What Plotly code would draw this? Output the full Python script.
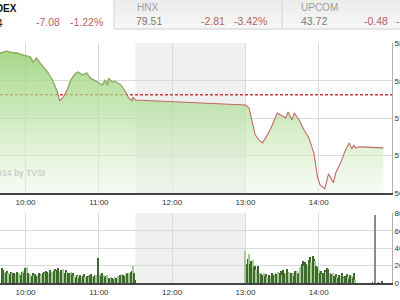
import plotly.graph_objects as go

DAY = "2014-06-10 "

# ---------------- data ----------------
prev_close = 580.32
header_labels = ["VNINDEX", "HNX", "UPCOM"]
header_values = ["573.24", "79.51", "43.72"]
header_changes = ["-7.08", "-2.81", "-0.48"]
header_pcts = ["-1.22%", "-3.42%", "-1.09%"]

price_times = ["09:39", "09:45", "09:47", "09:53", "09:58", "10:04", "10:06", "10:09", "10:12", "10:18",
               "10:22", "10:26", "10:28", "10:31", "10:34", "10:37", "10:41", "10:43", "10:47", "10:50",
               "10:53", "10:59", "11:03", "11:05", "11:07", "11:08", "11:11", "11:13", "11:18", "11:22",
               "11:24", "11:27", "11:28", "11:30",
               "13:00", "13:03", "13:06", "13:08", "13:11", "13:14", "13:18", "13:22", "13:26", "13:29",
               "13:33", "13:35", "13:38", "13:40", "13:44", "13:48", "13:52", "13:56", "13:59", "14:01",
               "14:05", "14:08", "14:12", "14:14", "14:18", "14:21", "14:25", "14:27", "14:29", "14:30",
               "14:33", "14:53"]
price_values = [585.90, 586.17, 586.03, 585.90, 585.63, 585.37, 584.70, 585.23, 584.57, 583.37,
                582.30, 580.70, 579.50, 580.03, 580.97, 582.30, 583.23, 583.37, 582.97, 583.23,
                582.57, 582.03, 581.63, 582.30, 581.63, 582.57, 582.03, 582.17, 581.63, 580.70,
                580.03, 579.50, 580.03, 579.63,
                578.97, 578.57, 576.57, 574.97, 574.30, 573.90, 574.97, 576.30, 577.90, 577.63,
                577.23, 578.03, 576.97, 577.90, 576.97, 575.63, 574.57, 572.57, 569.37, 568.30,
                567.77, 569.77, 568.57, 569.90, 571.23, 572.57, 573.90, 573.10, 573.63, 573.23,
                573.37, 573.23]

# per-minute volume, morning session ending 11:30
vol_am = [17, 15, 13, 11, 14, 12, 10, 13, 12, 11, 12, 10, 13, 11, 12, 9, 13, 14, 11,
          17, 18, 12, 9, 10, 8, 11, 9, 10, 8, 9, 11, 10, 9, 12,
          13, 12, 14, 13, 11, 15, 12, 13, 14, 16, 14, 15, 17, 13, 15, 14, 16, 12, 15, 13,
          12, 11, 13, 10, 12, 8, 7, 9, 8, 6, 9, 7, 8, 10, 7, 8, 8, 7, 9, 10, 8, 7, 9,
          9, 29, 9, 10, 8, 11, 9, 7, 8, 9, 6, 5, 7, 6, 5, 7, 6, 5,
          8, 9, 7, 10, 9, 8, 11, 10, 12, 11, 13, 14, 20, 12, 3]
# per-minute volume, afternoon session starting 13:00
vol_pm = [37, 22, 28, 33, 22, 25, 26, 18, 20, 15, 19, 10, 12, 10, 9, 12, 8, 10, 7, 9,
          6, 8, 11, 9, 12, 10, 9, 13, 11, 14, 9, 15, 12, 10, 16, 9, 13, 11, 10, 12, 8, 14,
          14, 10, 12, 18, 22, 25, 20, 24, 22, 19, 26, 30, 24, 31, 27, 25, 20,
          18, 15, 12, 14, 10, 11, 15, 13, 17, 16, 12, 10,
          9, 12, 8, 10, 7, 6, 9, 8, 11, 7, 6, 8, 10, 7, 5, 9, 8, 6, 12, 4]
vol_late_times = ["14:44", "14:46", "14:49", "14:52"]
vol_late = [1, 78, 1.5, 2]

price_ticks = [567.2, 572.2, 577.2, 582.2, 587.2]
price_ticktext = ["567", "572", "577", "582", "587"]
vol_ticks = [0, 20, 40, 60, 80]
hour_ticks = ["10:00", "11:00", "12:00", "13:00", "14:00", "15:00"]


# ---------------- helpers ----------------
def ts(hm):
    return DAY + hm


def minute_series(start_hm, n):
    h, m = map(int, start_hm.split(":"))
    out = []
    for i in range(n):
        t = h * 60 + m + i
        out.append(ts("%02d:%02d" % (t // 60, t % 60)))
    return out


W, H = 392.0, 240.0  # plot area in px (margins l=0, r=8, t=43, b=17)


def px(x):
    return x / W


def py(y):
    return (283 - y) / H


am_start_min = 11 * 60 + 30 - (len(vol_am) - 1)
vol_am_times = minute_series("%02d:%02d" % (am_start_min // 60, am_start_min % 60), len(vol_am))
vol_pm_times = minute_series("13:00", len(vol_pm))

xr = [DAY + "09:39:04", ts("15:00")]

fig = go.Figure()

# reference line (previous close), drawn first so the fill tints it
fig.add_trace(go.Scatter(x=xr, y=[prev_close, prev_close], mode="lines",
                         line=dict(color="#cc3a3a", width=1.5, dash="3px,2px"),
                         hoverinfo="skip", xaxis="x", yaxis="y"))
# price: gradient fill
px_times = [ts(t) for t in price_times]
fig.add_trace(go.Scatter(
    x=px_times, y=price_values, mode="lines", line=dict(width=0),
    fill="tozeroy",
    fillgradient=dict(type="vertical", start=567.2, stop=587.2,
                      colorscale=[[0, "rgba(238,247,232,0.5)"],
                                  [0.5, "rgba(185,226,162,0.7)"],
                                  [1, "rgba(145,205,112,0.85)"]]),
    hoverinfo="skip", xaxis="x", yaxis="y"))
# price line (red below reference, green above)
fig.add_trace(go.Scatter(x=px_times, y=price_values, mode="lines",
                         line=dict(color="#c06a68", width=1.1), xaxis="x", yaxis="y"))
green_vals = [v if v >= prev_close else None for v in price_values]
fig.add_trace(go.Scatter(x=px_times, y=green_vals, mode="lines",
                         line=dict(color="#86c066", width=1.1), connectgaps=False,
                         xaxis="x", yaxis="y"))

# volume bars
all_vol_t = vol_am_times + vol_pm_times
all_vol = vol_am + vol_pm
bar_colors = ["#a9c99b" if i % 3 == 2 else "#3c6b2c" for i in range(len(all_vol))]
fig.add_trace(go.Bar(x=all_vol_t, y=all_vol, marker=dict(color=bar_colors, line=dict(width=0)),
                     xaxis="x2", yaxis="y2"))
late_colors = ["#3c6b2c" if v < 10 else "#8a8a8a" for v in vol_late]
fig.add_trace(go.Bar(x=[ts(t) for t in vol_late_times], y=vol_late, width=40000,
                     marker=dict(color=late_colors, line=dict(width=0)),
                     xaxis="x2", yaxis="y2"))

tick_font = dict(family="Liberation Sans", size=8, color="#333333")
xcommon = dict(type="date", range=xr, tickvals=[ts(t) for t in hour_ticks], ticktext=hour_ticks,
               showgrid=True, gridcolor="#dadada", gridwidth=1, showline=True, linecolor="#444444",
               linewidth=2, ticks="", tickfont=tick_font, zeroline=False, fixedrange=True,
               automargin=False)

fig.update_layout(
    width=400, height=300, margin=dict(l=0, r=8, t=43, b=17, autoexpand=False),
    paper_bgcolor="white", plot_bgcolor="white", showlegend=False, bargap=0,
    xaxis=dict(domain=[0, 1], anchor="y", **xcommon),
    xaxis2=dict(domain=[0, 1], anchor="y2", **xcommon),
    yaxis=dict(domain=[0.375, 1], anchor="x", side="right", range=[567.2, 587.25],
               tickvals=price_ticks, ticktext=price_ticktext, showgrid=True, gridcolor="#dadada",
               showline=True, linecolor="#b0b0b0", linewidth=1, ticks="", tickfont=tick_font,
               zeroline=False, automargin=False),
    yaxis2=dict(domain=[0, 0.2917], anchor="x2", side="right", range=[0, 80.3],
                tickvals=vol_ticks, showgrid=True, gridcolor="#dadada", showline=True,
                linecolor="#b0b0b0", linewidth=1, ticks="", tickfont=tick_font, zeroline=False,
                automargin=False),
)

shapes = []
# lunch break shading
for yr in ["y domain", "y2 domain"]:
    shapes.append(dict(type="rect", xref="x", yref=yr, x0=ts("11:30"), x1=ts("13:00"), y0=0, y1=1,
                       fillcolor="#f0f0f0", line=dict(width=0), layer="below"))
# header boxes (HNX, UPCOM)
n_strips = 6
for i in range(n_strips):
    y0 = i * 29.0 / n_strips
    y1 = (i + 1) * 29.0 / n_strips
    g = int(236 + i * 2)
    shapes.append(dict(type="rect", xref="paper", yref="paper", x0=px(114), x1=px(400),
                       y0=py(y1), y1=py(y0), fillcolor="rgb(%d,%d,%d)" % (g, g, g),
                       line=dict(width=0), layer="below"))
shapes.append(dict(type="line", xref="paper", yref="paper", x0=px(114), x1=px(114), y0=py(29), y1=py(0),
                   line=dict(color="#cfcfcf", width=1), layer="below"))
shapes.append(dict(type="line", xref="paper", yref="paper", x0=px(282), x1=px(282), y0=py(29), y1=py(0),
                   line=dict(color="#cfcfcf", width=1), layer="below"))
shapes.append(dict(type="line", xref="paper", yref="paper", x0=px(114), x1=px(400), y0=py(29), y1=py(29),
                   line=dict(color="#cfcfcf", width=1), layer="below"))
fig.update_layout(shapes=shapes)

red_txt = "#b7625f"
ann = []


def text(s, x, y, anchor="left", color="#222", size=10, bold=False):
    ann.append(dict(text=("<b>%s</b>" % s) if bold else s, xref="paper", yref="paper",
                    x=px(x), y=py(y), xanchor=anchor, yanchor="middle", showarrow=False,
                    font=dict(family="Liberation Sans", size=size, color=color)))


text(header_labels[0], 18.5, 8, anchor="right", color="#111", size=10, bold=True)
text(header_values[0], 4.5, 23, anchor="right", color="#222", size=10)
text(header_changes[0], 34, 22, color=red_txt, size=10.5)
text(header_pcts[0], 68, 22, color=red_txt, size=10.5)
text(header_labels[1], 135, 7, color="#9c9c9c", size=10)
text(header_values[1], 134, 21, color="#7a7a7a", size=10.5)
text(header_changes[1], 199, 21, color=red_txt, size=10.5)
text(header_pcts[1], 232, 21, color=red_txt, size=10.5)
text(header_labels[2], 299, 7, color="#9c9c9c", size=10)
text(header_values[2], 299, 21, color="#7a7a7a", size=10.5)
text(header_changes[2], 362, 21, color=red_txt, size=10.5)
text(header_pcts[2], 394, 21, color=red_txt, size=10.5)
# watermark
ann.append(dict(text="<b>© 2014 by TVSI</b>", xref="paper", yref="paper", x=px(47), y=py(173),
                xanchor="right", yanchor="middle", showarrow=False,
                font=dict(family="Liberation Sans", size=8.5, color="#cdcdcd")))
fig.update_layout(annotations=ann)

fig.write_html("out.html")
